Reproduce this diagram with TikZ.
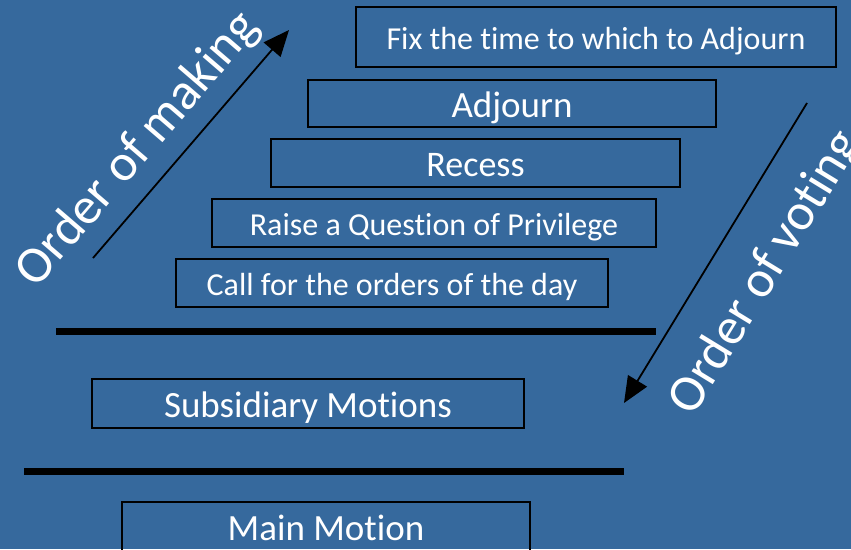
\documentclass[tikz,border=0pt]{standalone}
\usepackage{fontspec}
\setmainfont{Carlito}[Ligatures=NoCommon]
\usetikzlibrary{arrows.meta}
\definecolor{bg}{RGB}{54,105,157}
\begin{document}
\begin{tikzpicture}[x=1pt,y=-1pt,
  box/.style={draw=black, line width=1.6pt, inner sep=0pt, text=white, font=\fontsize{#1}{#1}\selectfont, text height=0.632*#1pt+4pt, text depth=0pt},
  bar/.style={line width=7pt, draw=black},
  arr/.style={line width=1.8pt, draw=black, -{Triangle[length=26pt,width=22pt]}},
  side/.style={text=white, font=\fontsize{52}{60}\selectfont, inner sep=0pt, text height=32.9pt, text depth=0pt}]
\fill[bg] (0,0) rectangle (851,549);
\useasboundingbox (0,0) rectangle (851,549);

\node[box=32, minimum width=480pt, minimum height=60pt] (fix) at (596,37) {Fix the time to which to Adjourn};
\node[box=37, minimum width=408pt, minimum height=47pt] (adj) at (512,103.5) {Adjourn};
\node[box=36, minimum width=409pt, minimum height=48pt] (rec) at (475.5,163) {Recess};
\node[box=32, minimum width=444pt, minimum height=48pt] (rai) at (434,223) {Raise a Question of Privilege};
\node[box=32, minimum width=432pt, minimum height=48pt] (cal) at (392,283) {Call for the orders of the day};
\node[box=37, minimum width=432pt, minimum height=49pt] (sub) at (308,403.5) {Subsidiary Motions};
\node[box=37, minimum width=408pt, minimum height=50pt] (mai) at (326,527) {Main Motion};

\coordinate (b1l) at (56,331);
\coordinate (b1r) at (656,331);
\coordinate (b2l) at (24,471);
\coordinate (b2r) at (624,471);
\draw[bar] (b1l) -- (b1r);
\draw[bar] (b2l) -- (b2r);

\coordinate (m1) at (93,258);
\coordinate (m2) at (289,30);
\draw[arr] (m1) -- (m2);
\coordinate (v1) at (807,103);
\coordinate (v2) at (624,403);
\draw[arr] (v1) -- (v2);

\node[side, rotate=49.3] (making) at (136,148) {Order of making};
\node[side, rotate=58.6] (voting) at (763.6,271.5) {Order of voting};
\end{tikzpicture}
\end{document}
